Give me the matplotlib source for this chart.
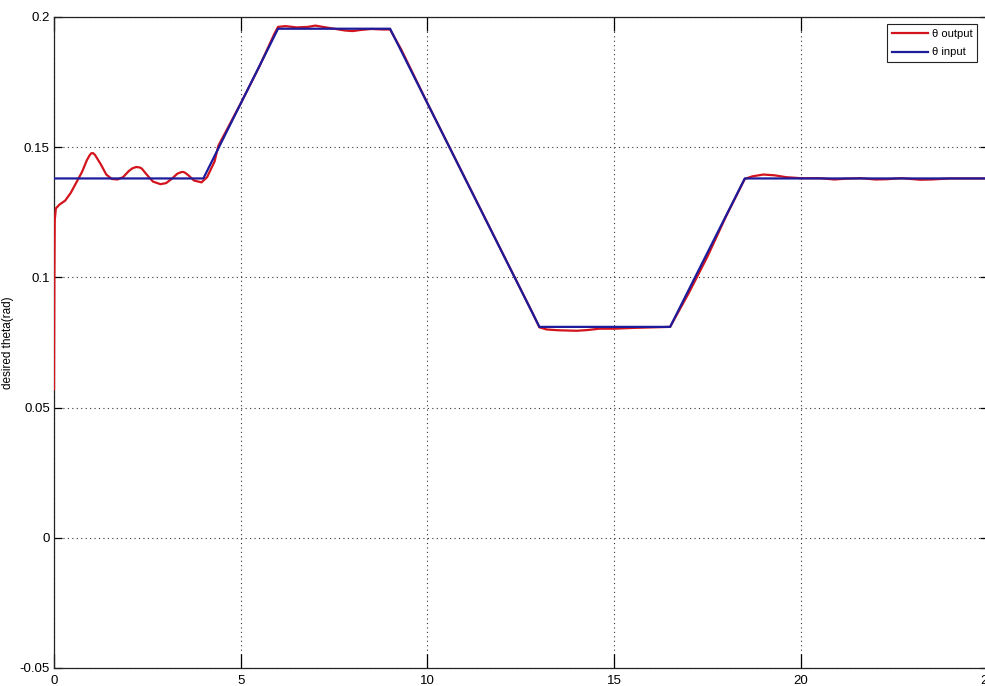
import matplotlib
matplotlib.use("Agg")
import matplotlib.pyplot as plt
from matplotlib import font_manager

# Narrow-ish sans font for the MATLAB-like look, with fallbacks
available = {f.name for f in font_manager.fontManager.ttflist}
family = [f for f in ["Liberation Sans Narrow", "Liberation Sans", "DejaVu Sans"]
          if f in available]
plt.rcParams["font.family"] = family

# Reference trajectory (corner points)
t_input = [0, 4, 6, 9, 13, 16.5, 18.5, 25]
theta_input = [0.138, 0.138, 0.1955, 0.1955, 0.081, 0.081, 0.138, 0.138]

# Measured response
t_output = [0.0, 0.01, 0.02, 0.05, 0.15, 0.3, 0.45, 0.6, 0.75, 0.88, 0.95, 1.0,
            1.05, 1.1, 1.25, 1.4, 1.55, 1.7, 1.85, 2.0, 2.1, 2.2, 2.3, 2.35,
            2.5, 2.65, 2.85, 3.0, 3.15, 3.3, 3.4, 3.45, 3.5, 3.6, 3.75, 3.95,
            4.1, 4.2, 4.3, 4.4, 5.0, 5.5, 5.9, 6.0, 6.2, 6.5, 6.8, 7.0, 7.2,
            7.5, 7.8, 8.0, 8.2, 8.5, 8.8, 9.0, 9.3, 10.0, 11.0, 12.0, 12.8,
            13.0, 13.2, 13.5, 14.0, 14.3, 14.6, 15.0, 15.5, 16.0, 16.5, 17.0,
            17.5, 18.0, 18.5, 18.7, 19.0, 19.3, 19.6, 20.0, 20.5, 20.9, 21.2,
            21.6, 22.0, 22.3, 22.7, 23.2, 23.5, 24.0, 25.0]
theta_output = [0.057, 0.100, 0.122, 0.1265, 0.128, 0.1295, 0.1325, 0.1365,
                0.1405, 0.145, 0.1468, 0.1477, 0.1477, 0.147, 0.1435, 0.1395,
                0.1378, 0.1376, 0.1385, 0.1408, 0.1419, 0.1424, 0.1422, 0.1418,
                0.1392, 0.1368, 0.1358, 0.1362, 0.1378, 0.1398, 0.1404, 0.1405,
                0.1403, 0.1392, 0.1372, 0.1365, 0.1385, 0.1415, 0.1445, 0.1505,
                0.1668, 0.181, 0.1935, 0.1962, 0.1965, 0.196, 0.1962, 0.1967,
                0.1962, 0.1955, 0.1948, 0.1946, 0.195, 0.1954, 0.1952, 0.1952,
                0.1875, 0.1669, 0.1383, 0.1097, 0.0868, 0.0808, 0.0800, 0.0797,
                0.0795, 0.0798, 0.0803, 0.0803, 0.0806, 0.0808, 0.081, 0.094,
                0.108, 0.1235, 0.1378, 0.1388, 0.1395, 0.1392, 0.1385, 0.1381,
                0.1381, 0.1376, 0.1379, 0.1381, 0.1376, 0.1377, 0.1381, 0.1375,
                0.1376, 0.138, 0.138]

x_ticks = [0, 5, 10, 15, 20, 25]
y_ticks = [-0.05, 0, 0.05, 0.1, 0.15, 0.2]
y_tick_labels = ["-0.05", "0", "0.05", "0.1", "0.15", "0.2"]

fig = plt.figure(figsize=(9.85, 6.86), dpi=100)
ax = fig.add_axes([54 / 985, 18 / 686, 933.5 / 985, 651 / 686])

ax.plot(t_output, theta_output, color="#d4141c", lw=1.6, label="θ output", zorder=3)
ax.plot(t_input, theta_input, color="#1c1c9c", lw=1.6, label="θ input", zorder=4)

ax.set_xlim(0, 25)
ax.set_ylim(-0.05, 0.2)
ax.set_xticks(x_ticks)
ax.set_xticklabels([str(v) for v in x_ticks])
ax.set_yticks(y_ticks)
ax.set_yticklabels(y_tick_labels)

ax.grid(True, color="#333333", linestyle=(0, (1, 3)), linewidth=0.8)
ax.tick_params(axis="x", direction="in", length=10, width=0.9, top=True,
               labelsize=9.5, pad=5)
ax.tick_params(axis="y", direction="in", length=6, width=0.9, right=True,
               labelsize=9.5, pad=3)
for s in ax.spines.values():
    s.set_linewidth(0.9)
    s.set_color("#222222")

ax.set_ylabel("desired theta(rad)", fontsize=8.5)
ax.yaxis.set_label_coords(-0.043, 0.5)

leg = ax.legend(loc="upper right", bbox_to_anchor=(0.989, 0.989),
                borderaxespad=0, fontsize=8, handlelength=3.3,
                handletextpad=0.3, labelspacing=0.75, fancybox=False,
                framealpha=1, borderpad=0.45)
leg.get_frame().set_edgecolor("#222222")
leg.get_frame().set_linewidth(0.8)

fig.savefig("out.png", dpi=100)
